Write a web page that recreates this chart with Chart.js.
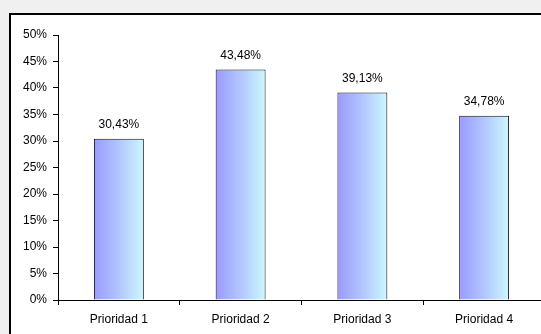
<!DOCTYPE html>
<html>
<head>
<meta charset="utf-8">
<script src="https://cdn.jsdelivr.net/npm/chart.js@4/dist/chart.umd.min.js"></script>
<style>
  html, body { margin: 0; padding: 0; background: #f0f0f0; }
  body { position: relative; width: 541px; height: 334px; overflow: hidden; }
  #frame { position: absolute; left: 9px; top: 13px; width: 540px; height: 330px; background: #fff; border-left: 2px solid #000; border-top: 2px solid #000; }
  #wrap { position: absolute; left: 0; top: 0; width: 541px; height: 334px; overflow: hidden; }
  #chart { display: block; }
</style>
</head>
<body>
<div id="frame"></div>
<div id="wrap"><canvas id="chart" width="560" height="334"></canvas></div>
<script>
const categories = ["Prioridad 1", "Prioridad 2", "Prioridad 3", "Prioridad 4"];
const values = [30.43, 43.48, 39.13, 34.78];
const yTicks = [0, 5, 10, 15, 20, 25, 30, 35, 40, 45, 50];

Chart.defaults.font.family = "'Liberation Sans', Arial, sans-serif";
Chart.defaults.font.size = 12;
Chart.defaults.color = "#000";

// horizontal gradient across each bar, purple-blue to pale cyan
function barFill(ctx) {
  const chart = ctx.chart;
  const xs = chart.scales.x;
  if (!xs || !chart.chartArea) return "#aaaaff";
  const cx = xs.getPixelForValue(ctx.dataIndex);
  const half = xs.width / categories.length * 0.41 / 2;
  const g = chart.ctx.createLinearGradient(cx - half, 0, cx + half, 0);
  g.addColorStop(0, "#9a9aff");
  g.addColorStop(0.5, "#b2c6ff");
  g.addColorStop(1, "#ccf8ff");
  return g;
}

const valueLabels = {
  id: "valueLabels",
  afterDatasetsDraw(chart) {
    const ctx = chart.ctx;
    const meta = chart.getDatasetMeta(0);
    ctx.save();
    ctx.font = "12px 'Liberation Sans', Arial, sans-serif";
    ctx.fillStyle = "#000";
    ctx.textAlign = "center";
    ctx.textBaseline = "middle";
    meta.data.forEach((bar, i) => {
      const txt = values[i].toFixed(2).replace(".", ",") + "%";
      ctx.fillText(txt, bar.x, bar.y - 14);
    });
    ctx.restore();
  },
};

new Chart(document.getElementById("chart"), {
  type: "bar",
  data: {
    labels: categories,
    datasets: [
      {
        data: values,
        backgroundColor: barFill,
        borderColor: "#111",
        borderWidth: 1,
        borderSkipped: "bottom",
        barPercentage: 0.41,
        categoryPercentage: 1,
      },
    ],
  },
  plugins: [valueLabels],
  options: {
    responsive: false,
    animation: false,
    devicePixelRatio: 1,
    layout: { padding: { left: 0, top: 35, right: 15, bottom: 0 } },
    plugins: {
      legend: { display: false },
      tooltip: { enabled: false },
    },
    scales: {
      x: {
        offset: true,
        grid: { offset: true, drawOnChartArea: false, drawTicks: true, tickLength: 5, color: "#000" },
        border: { color: "#000", width: 1 },
        ticks: { padding: 7, font: { size: 12 } },
        afterFit(scale) { scale.height = 34; },
      },
      y: {
        min: 0,
        max: 50,
        afterBuildTicks(scale) { scale.ticks = yTicks.map((v) => ({ value: v })); },
        grid: { drawOnChartArea: false, drawTicks: true, tickLength: 5, color: "#000" },
        border: { color: "#000", width: 1 },
        ticks: { padding: 6, callback: (v) => v + "%", font: { size: 12 } },
        afterFit(scale) { scale.width = 58; },
      },
    },
  },
});
</script>
</body>
</html>
